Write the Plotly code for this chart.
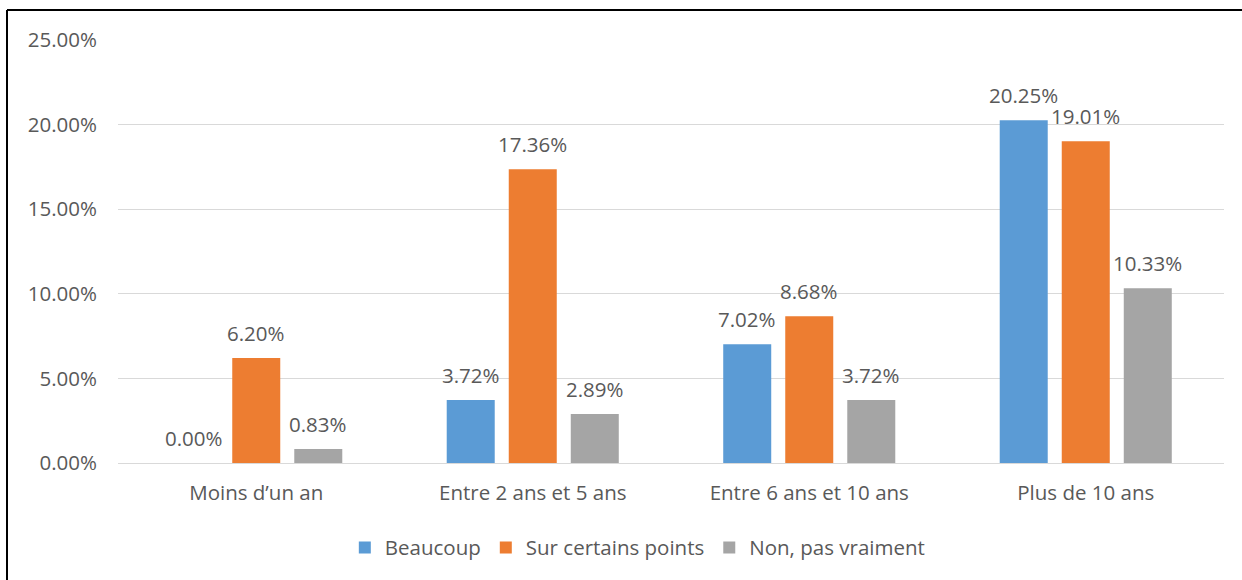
import plotly.graph_objects as go

categories = ["Moins d’un an", "Entre 2 ans et 5 ans", "Entre 6 ans et 10 ans", "Plus de 10 ans"]
beaucoup = [0.00, 3.72, 7.02, 20.25]
sur_certains_points = [6.20, 17.36, 8.68, 19.01]
non_pas_vraiment = [0.83, 2.89, 3.72, 10.33]

series_names = ["Beaucoup", "Sur certains points", "Non, pas vraiment"]
series_values = [beaucoup, sur_certains_points, non_pas_vraiment]
colors = ["#5B9BD5", "#ED7D31", "#A5A5A5"]

FONT = "Open Sans"
FS = 20.5
TEXT = "#595959"

fig = go.Figure()
for name, vals, col in zip(series_names, series_values, colors):
    fig.add_trace(go.Bar(
        x=categories, y=vals, name=name, marker_color=col,
        marker_line_width=0,
    ))

# value labels above each bar, offset to the bar's slot in its group
W, H, L, R, T, B = 1242, 580, 118, 18, 40, 117
BARGAP = 0.327
plot_w = W - L - R
plot_h = H - T - B
slot_px = plot_w / len(categories) * (1 - BARGAP) / 3
for i, vals in enumerate(series_values):
    for c, v in zip(categories, vals):
        fig.add_annotation(
            x=c, y=v, text=f"{v:.2f}%", showarrow=False,
            xshift=(i - 1) * slot_px, yanchor="bottom", yshift=9,
            font=dict(family=FONT, size=FS, color=TEXT),
        )

# outer frame lines (left and top)
x_left = (7 - L) / plot_w
y_top = 1 + (T - 10) / plot_h
fig.add_shape(type="line", xref="paper", yref="paper", x0=x_left, x1=(W - L + 5) / plot_w,
              y0=y_top, y1=y_top, line=dict(color="black", width=2))
fig.add_shape(type="line", xref="paper", yref="paper", x0=x_left, x1=x_left,
              y0=y_top, y1=-(B + 5) / plot_h, line=dict(color="black", width=2))

fig.update_layout(
    width=W, height=H,
    margin=dict(l=L, r=R, t=T, b=B),
    paper_bgcolor="white", plot_bgcolor="white",
    barmode="group", bargap=BARGAP, bargroupgap=0.226,
    font=dict(family=FONT, size=FS, color=TEXT),
    showlegend=True,
    legend=dict(orientation="h", x=0.47, xanchor="center", y=-0.2, yanchor="middle",
                font=dict(family=FONT, size=FS, color=TEXT), itemwidth=30,
                traceorder="normal"),
    xaxis=dict(showgrid=False, showline=True, linecolor="#D9D9D9", linewidth=1,
               ticks="", tickfont=dict(family=FONT, size=FS, color=TEXT),
               ticklabelstandoff=11),
    yaxis=dict(range=[0, 25], dtick=5, tickformat=".2f", ticksuffix="%",
               showgrid=True, gridcolor="#D9D9D9", gridwidth=1,
               zeroline=False, showline=False, ticks="",
               tickfont=dict(family=FONT, size=FS, color=TEXT),
               ticklabelstandoff=20),
)

fig.write_html("out.html")
